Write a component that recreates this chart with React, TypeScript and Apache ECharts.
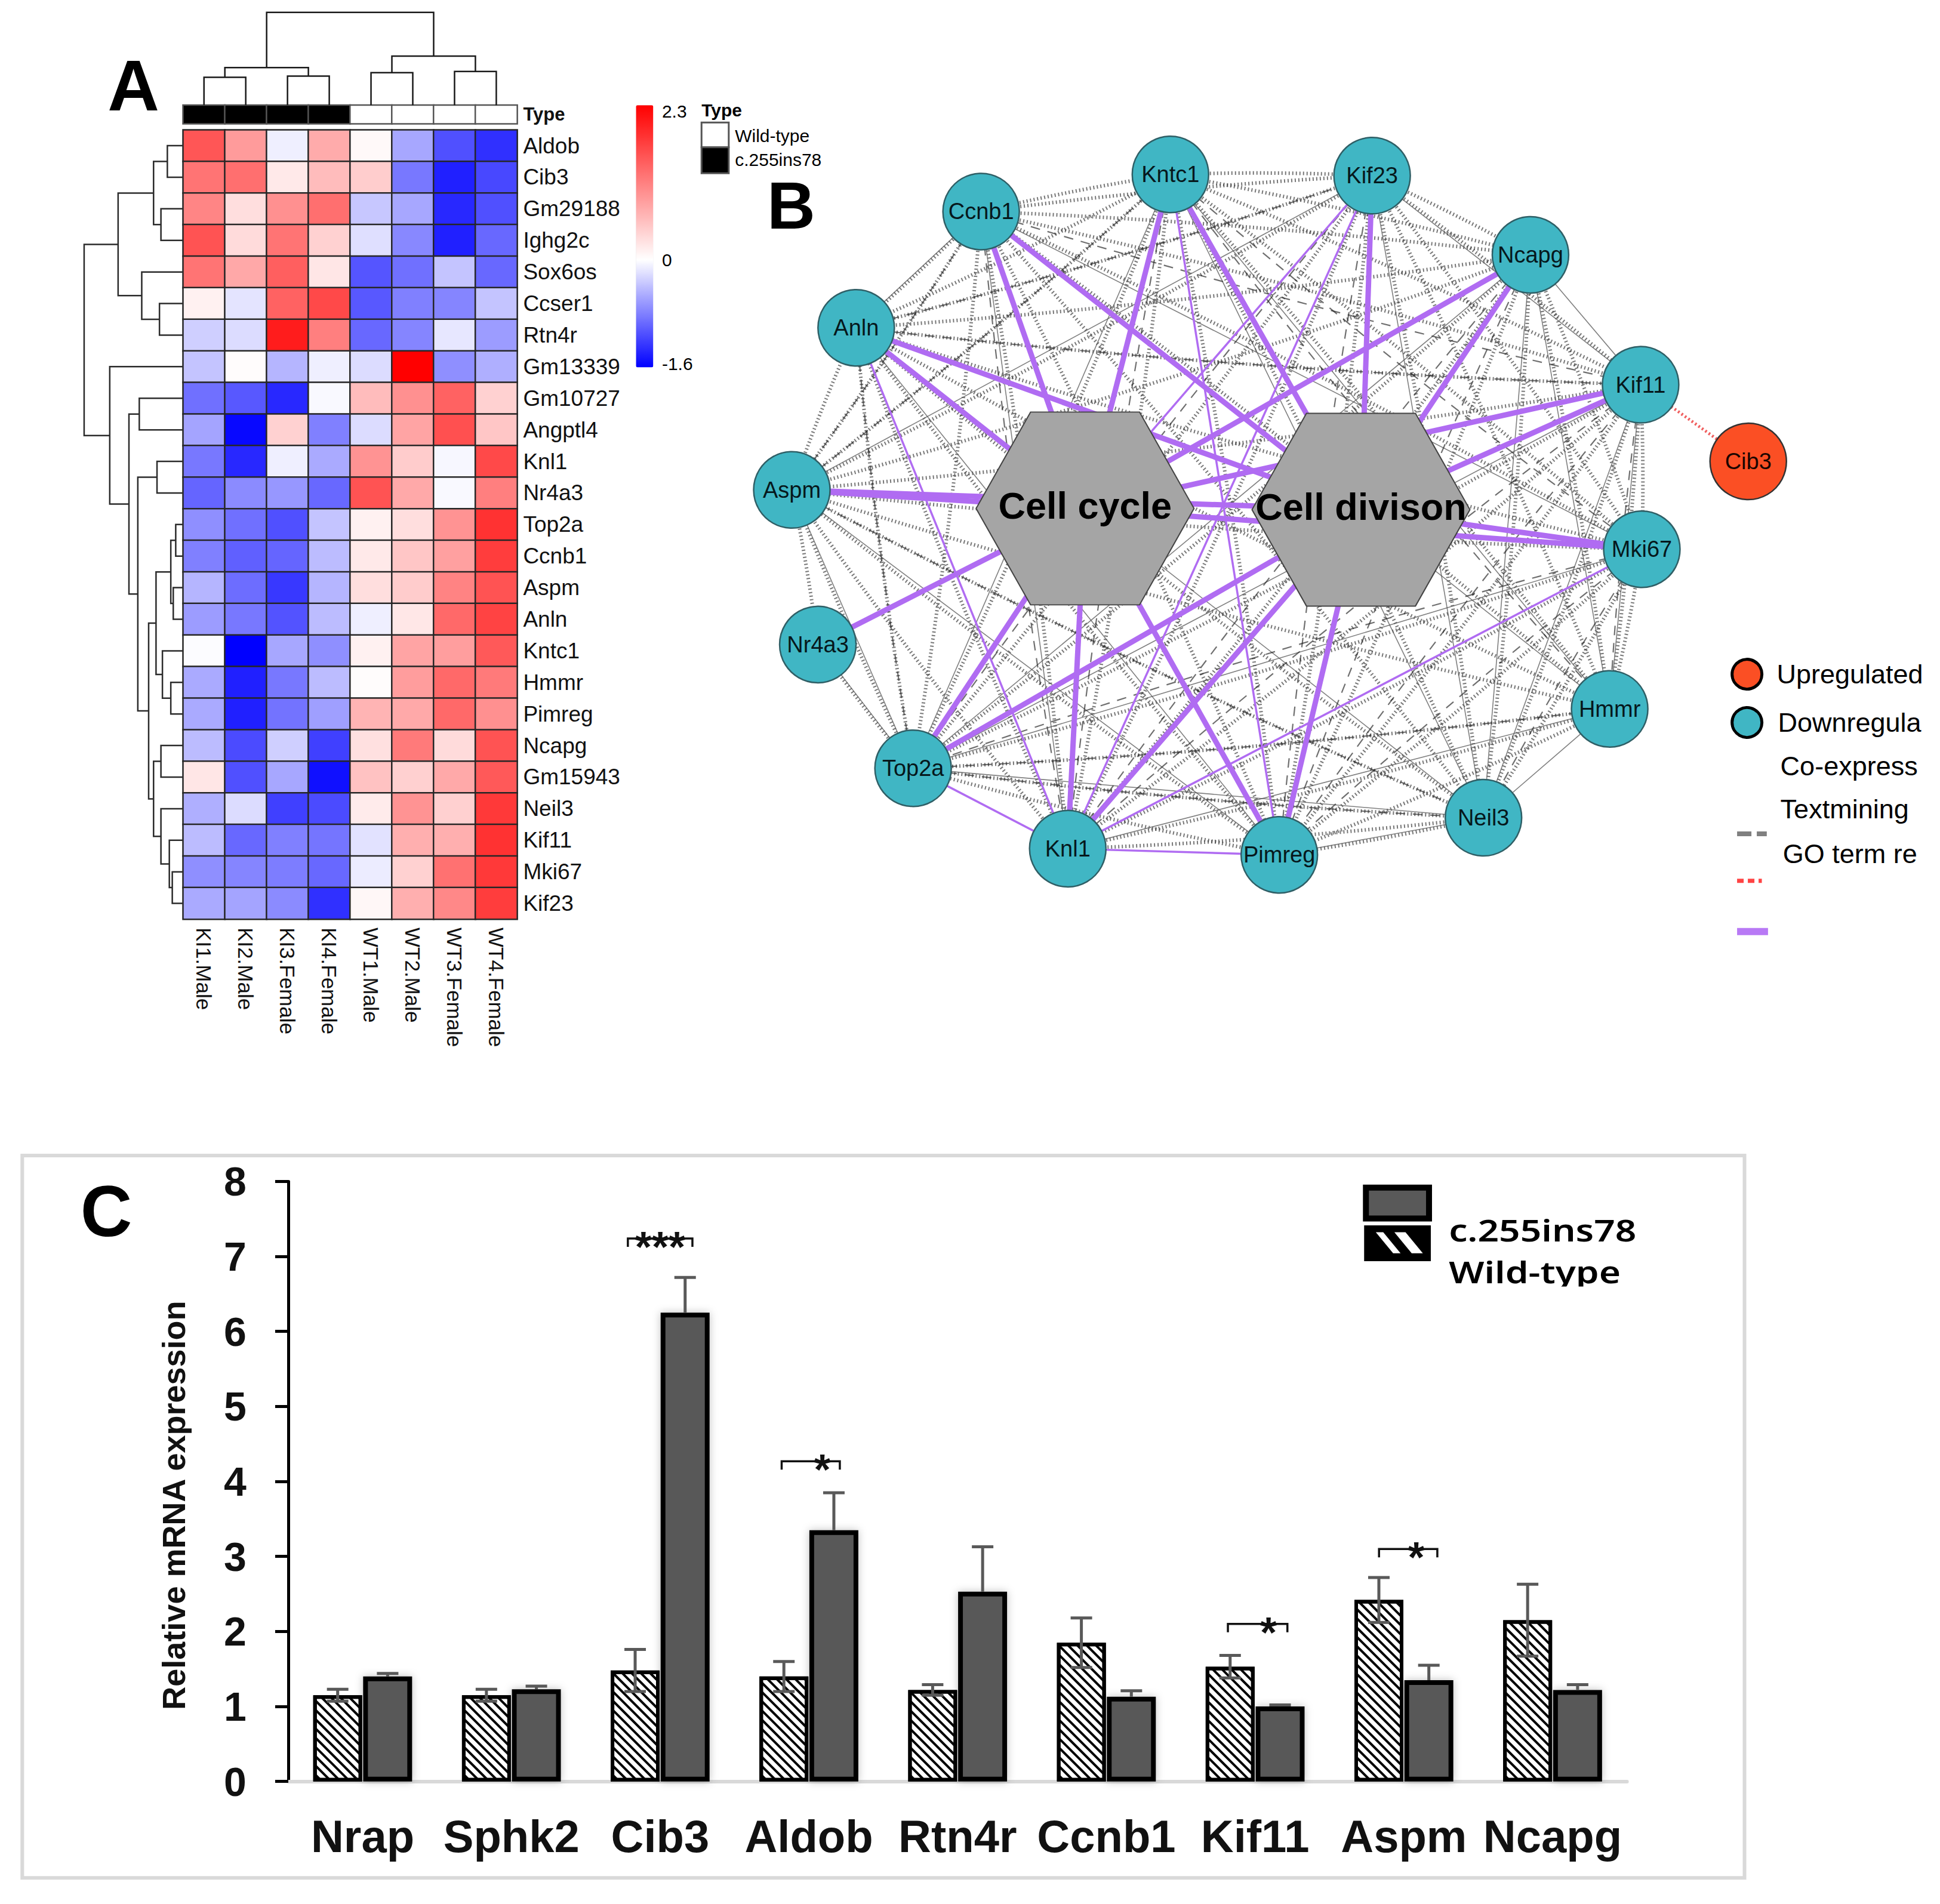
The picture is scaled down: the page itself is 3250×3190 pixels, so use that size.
import React, { useEffect, useRef } from "react";
import * as echarts from "echarts";

const S = 3250 / 1568; // preview-to-canvas scale
const p = (v: number) => v * S;
const FONT = "Liberation Sans";

// ---------- Panel A ----------
const samples = ["KI1.Male", "KI2.Male", "KI3.Female", "KI4.Female", "WT1.Male", "WT2.Male", "WT3.Female", "WT4.Female"];
const genes = ["Aldob", "Cib3", "Gm29188", "Ighg2c", "Sox6os", "Ccser1", "Rtn4r", "Gm13339", "Gm10727", "Angptl4", "Knl1", "Nr4a3", "Top2a", "Ccnb1", "Aspm", "Anln", "Kntc1", "Hmmr", "Pimreg", "Ncapg", "Gm15943", "Neil3", "Kif11", "Mki67", "Kif23"];
const expression = [
  [1.53, 0.9, -0.1, 0.75, 0.05, -0.55, -1.1, -1.3],
  [1.25, 1.3, 0.2, 0.6, 0.45, -0.85, -1.4, -1.15],
  [1.1, 0.3, 1.0, 1.3, -0.35, -0.55, -1.35, -1.1],
  [1.55, 0.33, 1.25, 0.42, -0.2, -0.75, -1.4, -0.95],
  [1.25, 0.78, 1.45, 0.23, -1.07, -0.9, -0.37, -0.95],
  [0.13, -0.17, 1.42, 1.65, -1.05, -0.8, -0.77, -0.37],
  [-0.3, -0.22, 2.05, 1.15, -0.95, -0.77, -0.15, -0.62],
  [-0.37, 0.03, -0.46, -0.1, -0.22, 2.3, -0.7, -0.5],
  [-0.9, -1.05, -1.35, -0.04, 0.6, 1.0, 1.42, 0.42],
  [-0.57, -1.55, 0.42, -0.8, -0.22, 0.82, 1.58, 0.52],
  [-0.85, -1.35, -0.1, -0.53, 0.97, 0.46, -0.05, 1.65],
  [-0.97, -0.73, -0.65, -0.95, 1.55, 0.77, -0.04, 1.15],
  [-0.7, -0.9, -1.1, -0.37, 0.13, 0.3, 0.97, 1.85],
  [-0.8, -1.0, -0.97, -0.42, 0.2, 0.52, 0.85, 1.75],
  [-0.46, -0.92, -1.25, -0.46, 0.3, 0.46, 1.12, 1.55],
  [-0.62, -0.85, -1.08, -0.42, -0.1, 0.22, 1.35, 1.7],
  [-0.02, -1.6, -0.55, -0.7, 0.13, 0.82, 0.87, 1.5],
  [-0.53, -1.4, -0.85, -0.42, 0.03, 0.88, 1.35, 1.2],
  [-0.53, -1.4, -0.88, -0.6, 0.67, 0.77, 1.35, 1.0],
  [-0.42, -1.13, -0.3, -1.2, 0.28, 1.2, 0.33, 1.55],
  [0.23, -1.1, -0.55, -1.5, 0.55, 0.43, 0.77, 1.5],
  [-0.5, -0.22, -1.2, -1.13, 0.18, 0.97, 0.43, 1.78],
  [-0.42, -0.95, -0.8, -0.87, -0.18, 0.72, 0.72, 1.85],
  [-0.7, -0.77, -0.82, -0.95, -0.12, 0.42, 1.28, 1.78],
  [-0.53, -0.57, -0.73, -1.3, 0.07, 0.72, 1.07, 1.75],
];
const sampleType = [1, 1, 1, 1, 0, 0, 0, 0];
// [position A, child height A, position B, child height B, merge height]
const rowMerges = [
  [0, 0, 1, 0, 32], [2, 0, 3, 0, 45], [0.5, 32, 2.5, 45, 60],
  [5, 0, 6, 0, 48], [4, 0, 5.5, 48, 84], [1.5, 60, 4.75, 84, 132],
  [8, 0, 9, 0, 89], [10, 0, 11, 0, 53], [12, 0, 13, 0, 15], [14, 0, 15, 0, 20],
  [12.5, 15, 14.5, 20, 25], [17, 0, 18, 0, 25], [16, 0, 17.5, 25, 42],
  [13.5, 25, 16.75, 42, 55], [19, 0, 20, 0, 45], [23, 0, 24, 0, 22],
  [22, 0, 23.5, 22, 28], [21, 0, 22.75, 28, 45], [19.5, 45, 21.875, 45, 60],
  [15.125, 55, 20.69, 60, 70], [10.5, 53, 17.9, 70, 92], [8.5, 89, 14.2, 92, 110],
  [7, 0, 11.35, 110, 149], [3.125, 132, 9.18, 149, 201],
];
const colMerges = [
  [0, 0, 1, 0, 72], [2, 0, 3, 0, 75], [0.5, 72, 2.5, 75, 97],
  [4, 0, 5, 0, 84], [6, 0, 7, 0, 87], [4.5, 84, 6.5, 87, 127],
  [1.5, 97, 5.5, 127, 240],
];

// ---------- Panel B ----------
const networkGenes = ["Ccnb1", "Kntc1", "Kif23", "Ncapg", "Kif11", "Mki67", "Hmmr", "Neil3", "Pimreg", "Knl1", "Top2a", "Nr4a3", "Aspm", "Anln"];
const networkX = [793, 946, 1109, 1237, 1326, 1327, 1301, 1199, 1034, 863, 738, 661, 640, 692];
const networkY = [171, 141, 142, 206, 311, 444, 573, 661, 691, 686, 621, 521, 396, 265];
const upGene = { name: "Cib3", x: 1413, y: 373 };
const terms = [
  { name: "Cell cycle", x: 877, y: 411 },
  { name: "Cell divison", x: 1100, y: 412 },
];
const textminingEdges = [
  "Ccnb1 Kntc1 Kif23 Ncapg Kif11 Mki67 Hmmr Neil3 Pimreg Knl1 Top2a Aspm Anln",
  "Kntc1 Kif23 Ncapg Kif11 Mki67 Hmmr Neil3 Pimreg Knl1 Top2a Aspm Anln",
  "Kif23 Ncapg Kif11 Mki67 Hmmr Neil3 Pimreg Knl1 Top2a Aspm Anln",
  "Ncapg Mki67 Hmmr Neil3 Pimreg Knl1 Top2a Aspm Anln",
  "Kif11 Mki67 Hmmr Neil3 Pimreg Knl1 Top2a Aspm Anln",
  "Mki67 Hmmr Neil3 Pimreg Knl1 Top2a Aspm Anln",
  "Hmmr Pimreg Knl1 Top2a Aspm Anln",
  "Neil3 Pimreg Knl1 Top2a Aspm Anln",
  "Pimreg Top2a Aspm Anln",
  "Knl1 Aspm Anln",
  "Top2a Aspm Anln Nr4a3",
  "Aspm Anln Nr4a3",
];
const coexpressionEdges = [
  "Anln Ccnb1 Pimreg Knl1 Neil3",
  "Aspm Top2a Pimreg Kif23",
  "Ccnb1 Knl1 Hmmr Mki67",
  "Kntc1 Top2a Neil3 Hmmr",
  "Kif23 Kif11 Neil3 Knl1",
  "Ncapg Kif11 Hmmr Neil3 Top2a",
  "Kif11 Hmmr Neil3 Top2a",
  "Mki67 Top2a",
  "Hmmr Neil3 Knl1",
  "Neil3 Pimreg Top2a",
  "Nr4a3 Top2a",
];
const cooccurrenceEdges = [
  "Anln Top2a Kif23 Kif11",
  "Aspm Ccnb1 Kntc1 Neil3",
  "Ccnb1 Kif11 Knl1",
  "Kntc1 Mki67 Knl1 Hmmr",
  "Kif23 Pimreg Top2a",
  "Ncapg Knl1 Pimreg",
  "Kif11 Pimreg Knl1 Hmmr",
  "Mki67 Pimreg Top2a Neil3",
  "Top2a Hmmr Neil3",
];
const goThick = [
  "Cell cycle: Ccnb1 Kntc1 Anln Aspm Nr4a3 Top2a Knl1 Pimreg Ncapg Kif11 Mki67",
  "Cell divison: Ccnb1 Kntc1 Kif23 Ncapg Kif11 Mki67 Anln Aspm Top2a Knl1 Pimreg",
];
const goThin = ["Kif23 Knl1", "Kif23 Cell cycle", "Kntc1 Pimreg", "Anln Knl1", "Top2a Knl1", "Knl1 Pimreg", "Knl1 Mki67"];

// ---------- Panel C ----------
const qpcrGenes = ["Nrap", "Sphk2", "Cib3", "Aldob", "Rtn4r", "Ccnb1", "Kif11", "Aspm", "Ncapg"];
const wildType = [1.15, 1.15, 1.48, 1.4, 1.22, 1.85, 1.53, 2.42, 2.15];
const wildTypeErr = [0.08, 0.08, 0.28, 0.2, 0.07, 0.33, 0.15, 0.3, 0.48];
const mutant = [1.4, 1.23, 6.25, 3.35, 2.53, 1.13, 1.0, 1.35, 1.22];
const mutantErr = [0.04, 0.04, 0.47, 0.5, 0.6, 0.08, 0.02, 0.2, 0.07];
// [category, bracket value, left, right (fractions of a category), star offset, label]
const significance: [number, number, number, number, number, string][] = [
  [2, 7.24, -0.217, 0.217, 0, "***"],
  [3, 4.27, -0.183, 0.208, 0.09, "*"],
  [6, 2.1, -0.183, 0.217, 0.09, "*"],
  [7, 3.1, -0.167, 0.225, 0.083, "*"],
];

const ramp = (() => {
  const hex = (n: number) => Math.round(n).toString(16).padStart(2, "0");
  const out: string[] = [];
  for (let i = 0; i <= 16; i++) { const c = 255 * (i / 16); out.push(`#${hex(c)}${hex(c)}ff`); }
  for (let i = 1; i <= 23; i++) { const c = 255 * (1 - i / 23); out.push(`#ff${hex(c)}${hex(c)}`); }
  return out;
})();

function dendroRow(_: any, api: any) {
  const a = api.value(0), ha = api.value(1), b = api.value(2), hb = api.value(3), h = api.value(4);
  return {
    type: "polyline",
    shape: { points: [api.coord([ha, a]), api.coord([h, a]), api.coord([h, b]), api.coord([hb, b])] },
    style: { stroke: "#2b2b2b", lineWidth: 2.5, fill: "none" },
  };
}
function dendroCol(_: any, api: any) {
  const a = api.value(0), ha = api.value(1), b = api.value(2), hb = api.value(3), h = api.value(4);
  return {
    type: "polyline",
    shape: { points: [api.coord([a, ha]), api.coord([a, h]), api.coord([b, h]), api.coord([b, hb])] },
    style: { stroke: "#1a1a1a", lineWidth: 2.5, fill: "none" },
  };
}
const errorRender = (side: number, both: boolean) => (_: any, api: any) => {
  const cat = api.value(0), v = api.value(1), e = api.value(2);
  const off = api.size([1, 0])[0] * side;
  const top = api.coord([cat, v + e]);
  const low = api.coord([cat, both ? v - e : v]);
  const x = top[0] + off, cap = 18;
  const style = { stroke: "#595959", lineWidth: 5 };
  const children: any[] = [
    { type: "line", shape: { x1: x, y1: top[1], x2: x, y2: low[1] }, style },
    { type: "line", shape: { x1: x - cap, y1: top[1], x2: x + cap, y2: top[1] }, style },
  ];
  if (both) children.push({ type: "line", shape: { x1: x - cap, y1: low[1], x2: x + cap, y2: low[1] }, style });
  return { type: "group", children };
};
function bracketRender(_: any, api: any) {
  const idx = api.value(5);
  const s = significance[idx];
  const c = api.coord([s[0], s[1]]);
  const w = api.size([1, 0])[0];
  const x1 = c[0] + s[2] * w, x2 = c[0] + s[3] * w, y = c[1];
  const style = { stroke: "#111", lineWidth: 3.5, fill: "none" };
  return {
    type: "group",
    children: [
      { type: "polyline", shape: { points: [[x1, y + 14], [x1, y], [x2, y], [x2, y + 14]] }, style },
      { type: "text", style: { text: s[5], x: c[0] + s[4] * w, y: y + 14, fill: "#111", font: `bold 72px ${FONT}`, textAlign: "center", textVerticalAlign: "middle" } },
    ],
  };
}

function buildNetwork() {
  const nodes: any[] = networkGenes.map((name, i) => ({
    name, value: [networkX[i], networkY[i]], symbol: "circle", symbolSize: 128,
    itemStyle: { color: "#40b6c4", borderColor: "#2f5f66", borderWidth: 2.5 },
    label: { show: true, position: "inside", color: "#06181c", fontSize: 38, fontFamily: FONT },
  }));
  nodes.push({
    name: upGene.name, value: [upGene.x, upGene.y], symbol: "circle", symbolSize: 128,
    itemStyle: { color: "#fb4f24", borderColor: "#333", borderWidth: 2.5 },
    label: { show: true, position: "inside", color: "#1a0500", fontSize: 38, fontFamily: FONT },
  });
  terms.forEach((t) => nodes.push({
    name: t.name, value: [t.x, t.y], symbol: "path://M25 0L75 0L100 50L75 100L25 100L0 50Z", symbolSize: [365, 323],
    itemStyle: { color: "#a5a5a5", borderColor: "#444", borderWidth: 2 },
    label: { show: true, position: "inside", color: "#000", fontSize: 63, fontWeight: "bold", fontFamily: FONT, offset: [0, -5] },
  }));
  const links: any[] = [];
  const add = (list: string[], lineStyle: any) => list.forEach((row) => {
    const [src, ...rest] = row.split(" ");
    rest.forEach((target) => links.push({ source: src, target, lineStyle }));
  });
  add(textminingEdges, { color: "#444", width: 6, type: [2, 4], opacity: 0.72, curveness: 0.02 });
  add(coexpressionEdges, { color: "#555", width: 1.6, type: "solid", opacity: 0.75, curveness: 0 });
  add(cooccurrenceEdges, { color: "#222", width: 2.2, type: [16, 13], opacity: 0.65, curveness: -0.02 });
  goThick.forEach((row) => {
    const [term, rest] = row.split(": ");
    rest.split(" ").forEach((target) => links.push({ source: target, target: term, lineStyle: { color: "#b06cf2", width: 9, type: "solid", opacity: 1, curveness: 0 } }));
  });
  goThin.forEach((row) => {
    const i = row.indexOf(" ");
    links.push({ source: row.slice(0, i), target: row.slice(i + 1), lineStyle: { color: "#b06cf2", width: 3.5, type: "solid", opacity: 1, curveness: 0 } });
  });
  links.push({ source: "Kif11", target: "Cib3", lineStyle: { color: "#f06060", width: 5, type: [3, 4], opacity: 1, curveness: 0 } });
  return { nodes, links };
}

function buildOption() {
  const { nodes, links } = buildNetwork();
  const heatData: number[][] = [];
  expression.forEach((row, r) => row.forEach((v, c) => heatData.push([c, r, v])));
  const txt = (text: string, x: number, y: number, font: string, extra: any = {}, el: any = {}) => ({
    type: "text", x: p(x), y: p(y), z: 50, ...el,
    style: { text, font, fill: "#000", textVerticalAlign: "middle", ...extra },
  });
  const clipped = (text: string, x: number, y: number, limit = 3221) =>
    txt(text, x, y, `45px ${FONT}`, { width: limit - p(x), overflow: "truncate", ellipsis: "" });
  const stripes = [
    [[1112, 996], [1118, 996], [1132, 1013], [1126, 1013]],
    [[1127, 996], [1136, 996], [1150, 1013], [1141, 1013]],
  ];
  return {
    animation: false,
    backgroundColor: "#ffffff",
    textStyle: { fontFamily: FONT },
    grid: [
      { left: p(148), top: p(105), width: p(270), height: p(638) },
      { left: p(148), top: p(85), width: p(270), height: p(15) },
      { left: p(68), top: p(105), width: p(80), height: p(638) },
      { left: p(148), top: p(10), width: p(270), height: p(75) },
      { left: 0, top: 0, width: 3250, height: 3190 },
      { left: p(233), top: p(955), width: p(1082), height: p(485) },
    ],
    xAxis: [
      { gridIndex: 0, type: "category", data: samples, position: "bottom", axisLine: { show: false }, axisTick: { show: false }, splitLine: { show: false },
        axisLabel: { rotate: -90, fontSize: 35, color: "#111", margin: 14, interval: 0, fontFamily: FONT } },
      { gridIndex: 1, type: "category", data: samples, show: false },
      { gridIndex: 2, type: "value", min: 0, max: 201, inverse: true, show: false },
      { gridIndex: 3, type: "value", min: -0.5, max: 7.5, show: false },
      { gridIndex: 4, type: "value", min: 0, max: 1568, show: false },
      { gridIndex: 5, type: "category", data: qpcrGenes, axisLine: { lineStyle: { color: "#d9d9d9", width: 6 } }, axisTick: { show: false },
        axisLabel: { fontSize: 76, fontWeight: "bold", color: "#111", margin: 54, interval: 0, fontFamily: FONT } },
    ],
    yAxis: [
      { gridIndex: 0, type: "category", data: genes, inverse: true, position: "right", axisLine: { show: false }, axisTick: { show: false }, splitLine: { show: false },
        axisLabel: { fontSize: 37, color: "#111", margin: 10, interval: 0, fontFamily: FONT } },
      { gridIndex: 1, type: "category", data: ["Type"], position: "right", axisLine: { show: false }, axisTick: { show: false },
        axisLabel: { fontSize: 31, fontWeight: "bold", color: "#111", margin: 10, fontFamily: FONT } },
      { gridIndex: 2, type: "value", min: -0.5, max: 24.5, inverse: true, show: false },
      { gridIndex: 3, type: "value", min: 0, max: 240, show: false },
      { gridIndex: 4, type: "value", min: 0, max: 3190 / S, inverse: true, show: false },
      { gridIndex: 5, type: "value", min: 0, max: 8, interval: 1, splitLine: { show: false },
        axisLine: { show: true, lineStyle: { color: "#000", width: 5 } },
        axisTick: { show: true, length: 22, lineStyle: { color: "#000", width: 5 } },
        axisLabel: { fontSize: 68, fontWeight: "bold", color: "#111", margin: 70, fontFamily: FONT },
        name: "Relative mRNA expression", nameLocation: "middle", nameRotate: 90, nameGap: 165,
        nameTextStyle: { fontSize: 54, fontWeight: "bold", color: "#111", padding: [0, 80, 0, 0], fontFamily: FONT } },
    ],
    visualMap: [
      { type: "continuous", seriesIndex: 0, min: -1.6, max: 2.3, calculable: false, realtime: false, show: true, orient: "vertical", padding: 0,
        left: p(514), top: p(85), itemWidth: p(14), itemHeight: p(212), text: null, showLabel: false, inRange: { color: ramp }, borderWidth: 0 },
      { type: "continuous", seriesIndex: 1, min: 0, max: 1, show: false, inRange: { color: ["#ffffff", "#000000"] } },
    ],
    series: [
      { type: "heatmap", name: "Expression", xAxisIndex: 0, yAxisIndex: 0, data: heatData, itemStyle: { borderColor: "#262626", borderWidth: 2.5 }, emphasis: { disabled: true } },
      { type: "heatmap", name: "Type", xAxisIndex: 1, yAxisIndex: 1, data: sampleType.map((v, i) => [i, 0, v]), itemStyle: { borderColor: "#555", borderWidth: 2.5 }, emphasis: { disabled: true } },
      { type: "custom", name: "Gene dendrogram", xAxisIndex: 2, yAxisIndex: 2, data: rowMerges, renderItem: dendroRow, silent: true, clip: false },
      { type: "custom", name: "Sample dendrogram", xAxisIndex: 3, yAxisIndex: 3, data: colMerges, renderItem: dendroCol, silent: true, clip: false },
      { type: "graph", name: "Network", coordinateSystem: "cartesian2d", xAxisIndex: 4, yAxisIndex: 4, layout: "none", roam: false, data: nodes, links, edgeSymbol: ["none", "none"], silent: true },
      { type: "bar", name: "Wild-type", xAxisIndex: 5, yAxisIndex: 5, data: wildType, barWidth: 82, barGap: "2%",
        itemStyle: { color: "#ffffff", borderColor: "#000", borderWidth: 6,
          decal: { symbol: "rect", symbolSize: 1, dashArrayX: [1, 0], dashArrayY: [4, 7], rotation: Math.PI / 4, color: "#000", backgroundColor: "#fff" } } },
      { type: "bar", name: "c.255ins78", xAxisIndex: 5, yAxisIndex: 5, data: mutant, barWidth: 82, barGap: "2%",
        itemStyle: { color: "#595959", borderColor: "#000", borderWidth: 8, shadowBlur: 14, shadowColor: "rgba(0,0,0,0.25)" } },
      { type: "custom", name: "WT error", xAxisIndex: 5, yAxisIndex: 5, data: wildType.map((v, i) => [i, v, wildTypeErr[i]]), renderItem: errorRender(-0.168, true), z: 5, silent: true, clip: false },
      { type: "custom", name: "KI error", xAxisIndex: 5, yAxisIndex: 5, data: mutant.map((v, i) => [i, v, mutantErr[i]]), renderItem: errorRender(0.168, false), z: 5, silent: true, clip: false },
      { type: "custom", name: "Significance", xAxisIndex: 5, yAxisIndex: 5, data: significance.map((s, i) => [s[0], s[1], 0, 0, 0, i]), renderItem: bracketRender, z: 6, silent: true, clip: false },
    ],
    graphic: [
      { type: "rect", z: -1, shape: { x: p(18), y: p(934), width: p(1392), height: p(584) }, style: { fill: "none", stroke: "#d9d9d9", lineWidth: 6 } },
      txt("A", 87, 69, `bold 120px ${FONT}`),
      txt("B", 620, 166, `bold 112px ${FONT}`),
      txt("C", 65, 979, `bold 120px ${FONT}`),
      txt("2.3", 535, 90, `30px ${FONT}`),
      txt("0", 535, 210, `30px ${FONT}`),
      txt("-1.6", 535, 294, `30px ${FONT}`),
      txt("Type", 567, 89, `bold 30px ${FONT}`),
      { type: "rect", z: 40, shape: { x: p(567), y: p(99), width: p(22), height: p(20) }, style: { fill: "#fff", stroke: "#555", lineWidth: 3 } },
      { type: "rect", z: 40, shape: { x: p(567), y: p(119), width: p(22), height: p(21) }, style: { fill: "#000", stroke: "#555", lineWidth: 3 } },
      txt("Wild-type", 594, 110, `30px ${FONT}`),
      txt("c.255ins78", 594, 129, `30px ${FONT}`),
      { type: "circle", z: 40, shape: { cx: p(1412), cy: p(545), r: 25 }, style: { fill: "#fb4f24", stroke: "#000", lineWidth: 5 } },
      { type: "circle", z: 40, shape: { cx: p(1412), cy: p(584), r: 25 }, style: { fill: "#40b6c4", stroke: "#000", lineWidth: 5 } },
      clipped("Upregulated", 1436, 545, 3240),
      clipped("Downregulated", 1437, 584),
      clipped("Co-expression", 1439, 619),
      clipped("Textmining", 1439, 654),
      clipped("GO term related", 1441, 690),
      { type: "line", z: 40, shape: { x1: p(1404), y1: p(674), x2: p(1428), y2: p(674) }, style: { stroke: "#808080", lineWidth: 8, lineDash: [24, 9] } },
      { type: "line", z: 40, shape: { x1: p(1404), y1: p(712), x2: p(1424), y2: p(712) }, style: { stroke: "#f44", lineWidth: 7, lineDash: [11, 7] } },
      { type: "line", z: 40, shape: { x1: p(1404), y1: p(753), x2: p(1429), y2: p(753) }, style: { stroke: "#b879f5", lineWidth: 12 } },
      { type: "rect", z: 40, shape: { x: p(1104), y: p(960), width: p(51), height: p(25) }, style: { fill: "#595959", stroke: "#000", lineWidth: 10 } },
      { type: "rect", z: 40, shape: { x: p(1104), y: p(992), width: p(51), height: p(26) }, style: { fill: "#000", stroke: "#000", lineWidth: 6 } },
      ...stripes.map((pts) => ({ type: "polygon", z: 41, shape: { points: pts.map(([x, y]) => [p(x), p(y)]) }, style: { fill: "#fff" } })),
      txt("c.255ins78", 1171, 994, `600 51px "Noto Sans"`, {}, { scaleX: 1.22 }),
      txt("Wild-type", 1171, 1028, `600 51px "Noto Sans"`, {}, { scaleX: 1.22 }),
      { type: "rect", z: 60, shape: { x: p(1165), y: p(1040), width: p(170), height: p(10) }, style: { fill: "#fff" } },
      { type: "rect", z: 60, shape: { x: p(150), y: p(1040), width: p(8), height: p(110) }, style: { fill: "#fff" } },
    ],
  };
}

export default function App() {
  const ref = useRef<HTMLDivElement>(null);
  useEffect(() => {
    const chart = echarts.init(ref.current!, undefined, { renderer: "svg" });
    chart.setOption(buildOption() as any);
    return () => chart.dispose();
  }, []);
  return <div ref={ref} style={{ position: "absolute", left: 0, top: 0, width: 3250, height: 3190 }} />;
}
